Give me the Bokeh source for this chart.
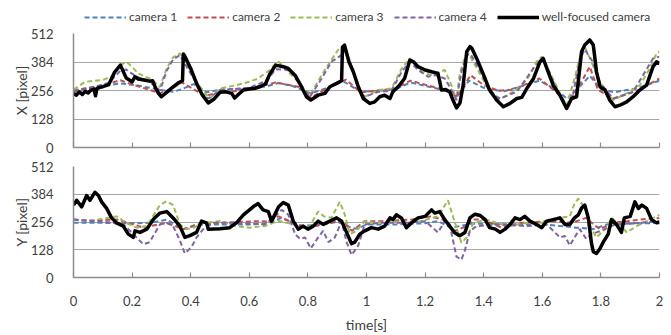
from bokeh.plotting import figure
from bokeh.layouts import column
from bokeh.models import (Range1d, FixedTicker, NumeralTickFormatter, Legend, LegendItem,
                          CustomJSTickFormatter)
from bokeh.embed import file_html
from bokeh.resources import INLINE

# ---------------- data ----------------
# top panel: X position [pixel]
t_cam1_x = [0, 0.1, 0.16, 0.22, 0.3, 0.34, 0.37, 0.41, 0.455, 0.5, 0.6, 0.66, 0.7, 0.75, 0.81, 0.86, 0.92,
            0.98, 1.05, 1.1, 1.15, 1.24, 1.28, 1.31, 1.35, 1.4, 1.43, 1.47, 1.52, 1.59, 1.65, 1.685, 1.74,
            1.762, 1.8, 1.845, 1.92, 2.0]
cam1_x = [258, 275, 288, 278, 258, 250, 262, 285, 248, 260, 265, 275, 290, 275, 243, 265, 298,
          250, 255, 262, 292, 265, 250, 232, 300, 268, 258, 253, 272, 300, 258, 218, 290,
          322, 262, 248, 265, 300]

t_cam2_x = [0, 0.1, 0.16, 0.22, 0.295, 0.33, 0.37, 0.45, 0.5, 0.55, 0.62, 0.69, 0.77, 0.81, 0.86, 0.93,
            0.98, 1.05, 1.1, 1.15, 1.24, 1.28, 1.31, 1.355, 1.4, 1.45, 1.5, 1.59, 1.66, 1.685, 1.74, 1.762,
            1.79, 1.845, 1.93, 2.0]
cam2_x = [255, 280, 302, 275, 244, 262, 292, 232, 248, 253, 270, 292, 272, 223, 262, 305,
          248, 258, 265, 300, 268, 250, 228, 325, 280, 255, 260, 310, 235, 190, 310, 363,
          258, 220, 258, 310]

t_cam3_x = [0, 0.04, 0.1, 0.14, 0.16, 0.18, 0.2, 0.22, 0.26, 0.28, 0.295, 0.318, 0.34, 0.363, 0.39, 0.41,
            0.44, 0.465, 0.5, 0.556, 0.6, 0.63, 0.67, 0.69, 0.7, 0.744, 0.767, 0.807, 0.847, 0.88, 0.903,
            0.92, 0.949, 0.977, 0.994, 1.04, 1.085, 1.12, 1.148, 1.19, 1.22, 1.267, 1.29, 1.307, 1.318,
            1.336, 1.348, 1.39, 1.42, 1.443, 1.456, 1.51, 1.547, 1.58, 1.598, 1.625, 1.66, 1.683, 1.71,
            1.734, 1.745, 1.797, 1.82, 1.842, 1.888, 1.933, 1.967, 1.99, 2.0]
cam3_x = [260, 295, 303, 325, 370, 385, 363, 333, 310, 290, 272, 355, 405, 423, 370, 310,
          258, 220, 265, 280, 295, 310, 348, 378, 385, 325, 295, 235, 325, 393, 438,
          453, 355, 258, 228, 258, 265, 355, 400, 340, 325, 348, 280, 213, 330,
          408, 423, 325, 250, 220, 218, 258, 303, 385, 408, 340, 243, 190, 310,
          435, 453, 295, 250, 213, 243, 280, 355, 423, 430]

t_cam4_x = [0, 0.06, 0.12, 0.16, 0.18, 0.215, 0.25, 0.28, 0.295, 0.318, 0.34, 0.363, 0.41, 0.44, 0.46,
            0.5, 0.6, 0.66, 0.69, 0.72, 0.74, 0.767, 0.807, 0.847, 0.88, 0.915, 0.93, 0.955, 0.983,
            0.994, 1.04, 1.085, 1.12, 1.148, 1.176, 1.21, 1.233, 1.267, 1.284, 1.307, 1.324, 1.342,
            1.355, 1.39, 1.42, 1.444, 1.456, 1.513, 1.57, 1.598, 1.632, 1.66, 1.68, 1.705, 1.728,
            1.745, 1.77, 1.797, 1.842, 1.91, 1.978, 2.0]
cam4_x = [250, 268, 290, 345, 350, 318, 303, 275, 255, 345, 395, 415, 310, 235, 220,
          258, 268, 300, 352, 350, 345, 295, 228, 310, 385, 415, 435, 340, 243,
          228, 250, 255, 340, 385, 348, 318, 325, 310, 273, 213, 340, 415,
          420, 340, 258, 228, 220, 250, 355, 400, 310, 235, 175, 240, 393,
          440, 390, 290, 220, 250, 400, 408]

t_well_x = [0, 0.01, 0.02, 0.03, 0.04, 0.05, 0.06, 0.07, 0.075, 0.08, 0.09, 0.1, 0.12, 0.14, 0.16, 0.18,
            0.2, 0.21, 0.22, 0.24, 0.26, 0.27, 0.28, 0.29, 0.3, 0.32, 0.34, 0.36, 0.372, 0.375, 0.38,
            0.4, 0.42, 0.44, 0.46, 0.48, 0.5, 0.52, 0.54, 0.55, 0.56, 0.58, 0.6, 0.62, 0.64, 0.655,
            0.67, 0.69, 0.716, 0.733, 0.756, 0.778, 0.795, 0.81, 0.835, 0.858, 0.875, 0.898, 0.915,
            0.918, 0.925, 0.94, 0.955, 0.972, 0.989, 1.011, 1.028, 1.045, 1.062, 1.08, 1.09, 1.108,
            1.13, 1.148, 1.16, 1.176, 1.2, 1.222, 1.244, 1.256, 1.27, 1.284, 1.295, 1.307, 1.319, 1.33,
            1.342, 1.353, 1.36, 1.376, 1.4, 1.42, 1.444, 1.467, 1.49, 1.513, 1.53, 1.547, 1.57, 1.592,
            1.603, 1.62, 1.637, 1.66, 1.683, 1.7, 1.717, 1.734, 1.745, 1.762, 1.774, 1.785, 1.797,
            1.814, 1.83, 1.848, 1.865, 1.888, 1.91, 1.933, 1.956, 1.978, 1.99, 2.0]
well_x = [243, 235, 250, 238, 252, 245, 258, 262, 232, 265, 270, 273, 282, 338, 370, 312,
          295, 318, 308, 303, 298, 300, 268, 243, 228, 250, 272, 292, 300, 420, 410,
          355, 288, 235, 200, 218, 248, 250, 243, 222, 235, 258, 263, 266, 275, 285,
          330, 370, 363, 355, 325, 273, 228, 213, 235, 243, 273, 288, 300,
          450, 460, 385, 340, 273, 220, 198, 205, 228, 235, 220, 250, 273,
          310, 393, 385, 363, 348, 340, 333, 258, 260, 250, 213, 178, 200, 280,
          430, 453, 445, 400, 325, 258, 213, 183, 198, 220, 225, 265, 310, 385,
          400, 340, 280, 235, 175, 220, 228, 430, 460, 483, 460, 340, 273,
          258, 213, 183, 190, 205, 228, 258, 280, 363, 385, 378]

# bottom panel: Y position [pixel]
t_cam1_y = [0, 0.1, 0.2, 0.26, 0.318, 0.375, 0.42, 0.5, 0.6, 0.66, 0.71, 0.78, 0.85, 0.9, 0.95, 0.97,
            1.0, 1.1, 1.2, 1.244, 1.29, 1.32, 1.36, 1.5, 1.6, 1.717, 1.774, 1.82, 1.9, 2.0]
cam1_y = [252, 252, 250, 252, 267, 223, 245, 245, 245, 248, 275, 238, 245, 258, 228, 225,
          245, 245, 250, 260, 228, 238, 248, 245, 245, 230, 223, 245, 248, 252]

t_cam2_y = [0, 0.05, 0.15, 0.238, 0.318, 0.375, 0.43, 0.5, 0.625, 0.66, 0.7, 0.76, 0.8, 0.88, 0.92, 0.95,
            0.994, 1.05, 1.15, 1.22, 1.26, 1.3, 1.33, 1.365, 1.4, 1.46, 1.53, 1.63, 1.7, 1.75, 1.774,
            1.797, 1.84, 1.89, 1.933, 2.0]
cam2_y = [267, 262, 267, 230, 252, 223, 245, 252, 260, 258, 282, 245, 230, 252, 260, 215,
          260, 260, 267, 282, 267, 215, 230, 267, 267, 230, 252, 260, 252, 275, 245,
          223, 252, 260, 267, 275]

t_cam3_y = [0, 0.06, 0.147, 0.18, 0.215, 0.25, 0.295, 0.318, 0.34, 0.363, 0.385, 0.41, 0.443, 0.5, 0.556,
            0.6, 0.653, 0.7, 0.75, 0.8, 0.835, 0.855, 0.88, 0.909, 0.926, 0.943, 0.966, 0.994, 1.03,
            1.085, 1.14, 1.186, 1.244, 1.278, 1.3, 1.324, 1.342, 1.365, 1.41, 1.48, 1.55, 1.615, 1.66,
            1.694, 1.71, 1.723, 1.745, 1.768, 1.785, 1.82, 1.836, 1.864, 1.888, 1.922, 1.967, 2.0]
cam3_y = [267, 262, 282, 252, 230, 237, 334, 352, 334, 245, 223, 230, 252, 260, 237,
          230, 237, 262, 245, 223, 304, 282, 275, 349, 290, 200, 215, 260, 252,
          260, 252, 260, 282, 356, 260, 160, 185, 252, 267, 237, 252, 252, 275,
          282, 341, 364, 320, 223, 185, 230, 275, 245, 208, 237, 267, 289]

t_cam4_y = [0, 0.1, 0.17, 0.215, 0.238, 0.26, 0.295, 0.318, 0.34, 0.363, 0.38, 0.403, 0.42, 0.443, 0.477,
            0.55, 0.65, 0.68, 0.71, 0.733, 0.756, 0.773, 0.79, 0.81, 0.835, 0.852, 0.87, 0.892, 0.915,
            0.932, 0.949, 0.972, 0.994, 1.05, 1.14, 1.2, 1.244, 1.267, 1.284, 1.307, 1.324, 1.336,
            1.353, 1.376, 1.45, 1.55, 1.615, 1.643, 1.66, 1.677, 1.694, 1.71, 1.728, 1.75, 1.768,
            1.8, 1.85, 1.93, 2.0]
cam4_y = [267, 258, 245, 185, 153, 163, 245, 252, 237, 171, 111, 141, 185, 223, 252,
          252, 245, 270, 312, 290, 200, 178, 185, 134, 185, 215, 163, 185, 260,
          163, 104, 148, 245, 252, 252, 260, 208, 260, 245, 96, 82, 126,
          215, 237, 245, 237, 245, 208, 185, 192, 148, 185, 223, 178, 200,
          215, 245, 252, 260]

t_well_y = [0, 0.011, 0.028, 0.045, 0.056, 0.073, 0.085, 0.096, 0.113, 0.13, 0.147, 0.17, 0.187, 0.204,
            0.21, 0.227, 0.25, 0.272, 0.295, 0.318, 0.34, 0.363, 0.38, 0.397, 0.42, 0.437, 0.454,
            0.46, 0.5, 0.533, 0.556, 0.58, 0.613, 0.63, 0.647, 0.665, 0.676, 0.7, 0.716, 0.733, 0.75,
            0.767, 0.784, 0.8, 0.818, 0.835, 0.852, 0.875, 0.898, 0.915, 0.932, 0.949, 0.96, 0.977,
            0.994, 1.017, 1.04, 1.062, 1.08, 1.09, 1.102, 1.119, 1.136, 1.153, 1.176, 1.2, 1.222,
            1.233, 1.25, 1.267, 1.284, 1.3, 1.318, 1.336, 1.353, 1.37, 1.388, 1.405, 1.42, 1.44,
            1.456, 1.473, 1.49, 1.507, 1.524, 1.54, 1.558, 1.58, 1.598, 1.615, 1.637, 1.66, 1.677,
            1.694, 1.71, 1.723, 1.734, 1.745, 1.757, 1.768, 1.774, 1.785, 1.797, 1.808, 1.825,
            1.836, 1.853, 1.87, 1.88, 1.9, 1.916, 1.928, 1.94, 1.956, 1.973, 1.99, 2.0]
well_y = [334, 356, 326, 378, 356, 393, 378, 349, 319, 275, 252, 237, 200, 185,
          215, 208, 223, 267, 297, 304, 275, 237, 185, 193, 208, 260, 252,
          223, 225, 230, 252, 289, 326, 341, 312, 304, 260, 326, 346, 334, 260,
          223, 237, 223, 237, 260, 245, 260, 275, 260, 208, 156, 163, 200,
          215, 230, 223, 237, 275, 267, 289, 275, 230, 252, 275, 282, 312,
          297, 304, 267, 237, 208, 193, 208, 275, 292, 286, 267, 230, 223,
          208, 223, 245, 275, 267, 282, 260, 245, 230, 260, 267, 275, 245,
          245, 275, 289, 320, 334, 275, 156, 119, 111, 134, 163, 200,
          267, 245, 208, 275, 282, 349, 319, 334, 319, 267, 252, 255]

x_ticks = [0, 0.2, 0.4, 0.6, 0.8, 1.0, 1.2, 1.4, 1.6, 1.8, 2.0]
y_ticks = [0, 128, 256, 384, 512]
series_names = ["camera 1", "camera 2", "camera 3", "camera 4", "well-focused camera"]
series_colors = ["#4F81BD", "#C0504D", "#9BBB59", "#8064A2", "#000000"]

FONT = "Lato"
TXT = "#404040"
GRID = "#a6a6a6"
AXIS = "#8c8c8c"
W = 665
NAN = float("nan")


def style_line(p, i, xs, ys):
    if i < 4:
        return p.line(xs, ys, line_color=series_colors[i], line_width=2, line_dash="5 3")
    return p.line(xs, ys, line_color=series_colors[i], line_width=3.5, line_join="round")


def make_fig(height, top, bottom, show_labels, ylabel):
    p = figure(width=W, height=height, x_range=Range1d(0, 2), y_range=Range1d(0, 512),
               output_backend="svg", toolbar_location=None,
               min_border_left=73, min_border_right=6, min_border_top=top, min_border_bottom=bottom)
    p.outline_line_color = None
    p.xgrid.visible = False
    p.ygrid.grid_line_color = GRID
    p.ygrid.grid_line_width = 1.2
    p.xaxis.ticker = FixedTicker(ticks=x_ticks)
    p.yaxis.ticker = FixedTicker(ticks=y_ticks)
    for ax in (p.xaxis[0], p.yaxis[0]):
        ax.axis_line_color = AXIS
        ax.axis_line_width = 1.5
        ax.minor_tick_line_color = None
        ax.major_label_text_font = FONT
        ax.major_label_text_color = TXT
        ax.major_label_text_font_size = "13px"
        ax.axis_label_text_font = FONT
        ax.axis_label_text_color = TXT
        ax.axis_label_text_font_size = "14px"
        ax.axis_label_text_font_style = "normal"
    p.yaxis.major_tick_line_color = None
    p.yaxis.major_label_standoff = 14
    p.yaxis.axis_label = ylabel
    p.yaxis.axis_label_standoff = -2
    p.xaxis.major_tick_line_color = AXIS
    p.xaxis.major_tick_line_width = 1.2
    p.xaxis.major_tick_in = 5
    p.xaxis.major_tick_out = 0
    if show_labels:
        p.xaxis.formatter = NumeralTickFormatter(format="0.[0]")
        p.xaxis.major_label_standoff = 18
        p.xaxis.axis_label = "time[s]"
        p.xaxis.axis_label_standoff = 7
    else:
        p.xaxis.formatter = CustomJSTickFormatter(code="return ''")
        p.xaxis.major_label_standoff = 0
    return p


# legend strip on top (its frame is aligned with the plot frames below)
p0 = figure(width=W, height=26, x_range=Range1d(0, 1), y_range=Range1d(0, 1),
            output_backend="svg", toolbar_location=None, x_axis_type=None, y_axis_type=None,
            min_border_left=73, min_border_right=6, min_border_top=0, min_border_bottom=0)
p0.outline_line_color = None
p0.grid.visible = False
leg_renderers = [style_line(p0, i, [NAN, NAN], [NAN, NAN]) for i in range(5)]
legend = Legend(items=[LegendItem(label=series_names[i], renderers=[leg_renderers[i]]) for i in range(5)],
                orientation="horizontal", location=(11, 2),
                glyph_width=42, glyph_height=14, label_standoff=3, spacing=10,
                padding=0, margin=0, border_line_color=None, background_fill_alpha=0,
                label_text_font=FONT, label_text_font_size="12px", label_text_color=TXT,
                label_height=14)
p0.add_layout(legend, "center")

p1 = make_fig(130, 7, 9, False, "X [pixel]")
p2 = make_fig(179, 10, 53, True, "Y [pixel]")

top_data = [(t_cam1_x, cam1_x), (t_cam2_x, cam2_x), (t_cam3_x, cam3_x), (t_cam4_x, cam4_x), (t_well_x, well_x)]
bot_data = [(t_cam1_y, cam1_y), (t_cam2_y, cam2_y), (t_cam3_y, cam3_y), (t_cam4_y, cam4_y), (t_well_y, well_y)]

for p, data in ((p1, top_data), (p2, bot_data)):
    for i, (tt, vv) in enumerate(data):
        style_line(p, i, tt, vv)

layout = column(p0, p1, p2)
open("out.html", "w").write(file_html(layout, INLINE))
